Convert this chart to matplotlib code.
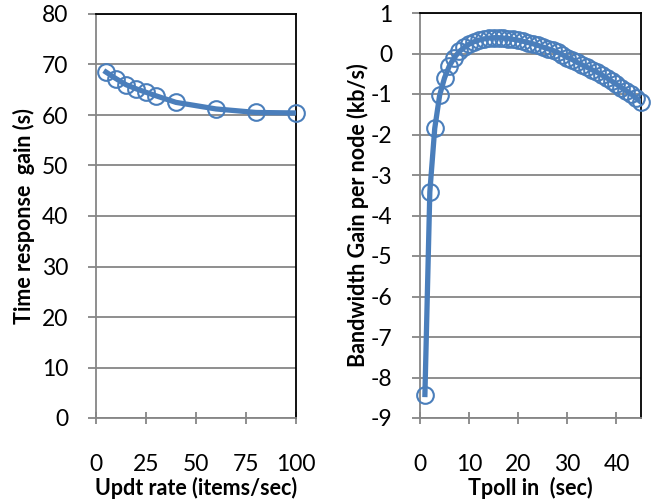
import numpy as np
import matplotlib
matplotlib.use("Agg")
import matplotlib.pyplot as plt

# -----------------------------------------------------------------------
# Data
# -----------------------------------------------------------------------
updt_rate = [5, 10, 15, 20, 25, 30, 40, 60, 80, 100]
time_gain = [68.5, 67.2, 66.0, 65.2, 64.5, 63.8, 62.5, 61.2, 60.5, 60.4]

tpoll = list(range(1, 46))
bw_gain = [-8.42, -3.42, -1.85, -1.03, -0.60, -0.30, -0.10, 0.05, 0.15, 0.23,
           0.29, 0.33, 0.36, 0.38, 0.39, 0.39, 0.38, 0.37, 0.35, 0.33,
           0.30, 0.27, 0.24, 0.20, 0.16, 0.12, 0.08, 0.03, -0.03, -0.10,
           -0.15, -0.22, -0.28, -0.34, -0.40, -0.46, -0.53, -0.60, -0.68, -0.76,
           -0.84, -0.92, -1.00, -1.10, -1.20]

BLUE = "#4A7EBB"
GRID = "#868686"
plt.rcParams["font.family"] = ["Lato", "DejaVu Sans"]
plt.rcParams["axes.unicode_minus"] = False

fig = plt.figure(figsize=(6.54, 5.04), dpi=100)
W, H = 654, 504
ax1 = fig.add_axes([96 / W, 1 - 418 / H, 200 / W, (418 - 14) / H])
ax2 = fig.add_axes([420 / W, 1 - 418 / H, 221 / W, (418 - 13) / H])


def style(ax):
    ax.grid(axis="y", color=GRID, lw=1.3)
    ax.set_axisbelow(True)
    for s in ("top", "right"):
        ax.spines[s].set_color("black")
        ax.spines[s].set_linewidth(1.3)
    for s in ("left", "bottom"):
        ax.spines[s].set_color(GRID)
        ax.spines[s].set_linewidth(1.3)
    ax.tick_params(axis="y", direction="out", length=6, width=1.3,
                   color=GRID, labelsize=16.5, pad=14)
    ax.tick_params(axis="x", direction="inout", length=8, width=1.3,
                   color=GRID, labelsize=16.5, pad=22)


# ── Left panel ─────────────────────────────────────────────────────────
ax1.plot(updt_rate, time_gain, color=BLUE, lw=3.8, zorder=3)
ax1.plot(updt_rate, time_gain, ls="none", marker="o", ms=12, mfc="none",
         mec=BLUE, mew=1.5, zorder=4, clip_on=False)
ax1.set_xlim(0, 100)
ax1.set_ylim(0, 80)
ax1.set_xticks([0, 25, 50, 75, 100])
ax1.set_yticks(range(0, 81, 10))
ax1.set_xlabel("Updt rate (items/sec)", fontsize=15.5, fontweight="bold",
               labelpad=1)
ax1.set_ylabel("Time response  gain (s)", fontsize=15.5, fontweight="bold",
               labelpad=5)
style(ax1)

# ── Right panel ────────────────────────────────────────────────────────
ax2.plot(tpoll, bw_gain, color=BLUE, lw=3.8, zorder=3)
ax2.plot(tpoll, bw_gain, ls="none", marker="o", ms=12, mfc="none",
         mec=BLUE, mew=1.5, zorder=4, clip_on=False)
ax2.set_xlim(0, 45)
ax2.set_ylim(-9, 1)
ax2.set_xticks([0, 10, 20, 30, 40])
ax2.set_yticks(range(-9, 2))
ax2.set_xlabel("Tpoll in  (sec)", fontsize=15.5, fontweight="bold",
               labelpad=1)
ax2.set_ylabel("Bandwidth Gain per node (kb/s)", fontsize=15.5,
               fontweight="bold", labelpad=1)
style(ax2)

fig.savefig("out.png", dpi=100)
